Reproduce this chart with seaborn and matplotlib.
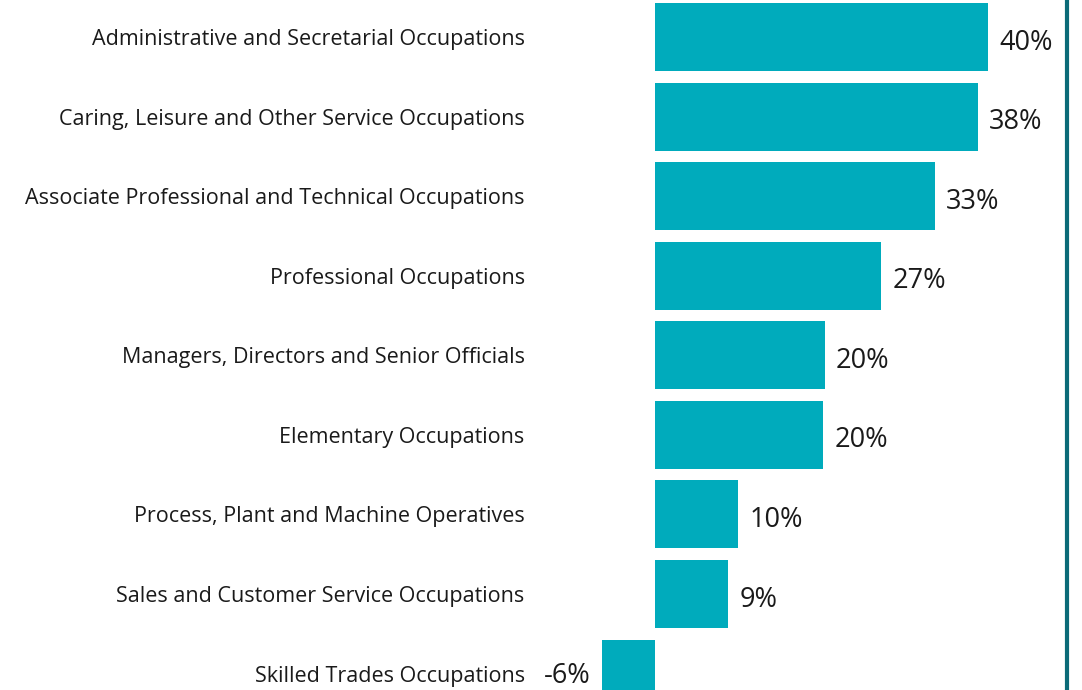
import matplotlib
matplotlib.use("Agg")
import matplotlib.pyplot as plt
import seaborn as sns
import pandas as pd

# Data
occupations = [
    "Administrative and Secretarial Occupations",
    "Caring, Leisure and Other Service Occupations",
    "Associate Professional and Technical Occupations",
    "Professional Occupations",
    "Managers, Directors and Senior Officials",
    "Elementary Occupations",
    "Process, Plant and Machine Operatives",
    "Sales and Customer Service Occupations",
    "Skilled Trades Occupations",
]
change_pct = [39.6, 38.4, 33.3, 26.9, 20.2, 20.0, 9.9, 8.7, -6.3]

BAR_COLOR = "#00ABBC"
EDGE_COLOR = "#0B6B78"
TEXT_COLOR = "#1a1a1a"

sns.set_theme(style="white")
plt.rcParams["font.family"] = ["Open Sans", "DejaVu Sans"]

df = pd.DataFrame({"occupation": occupations, "change": change_pct})

fig = plt.figure(figsize=(10.82, 6.9), dpi=100)
ax = fig.add_axes([540 / 1082, 0, (1067 - 540) / 1082, 1])

sns.barplot(data=df, x="change", y="occupation", orient="h",
            color=BAR_COLOR, saturation=1, width=0.855, linewidth=0, ax=ax)

ax.set_xlim(-13.67, 48.99)
ax.set_ylim(8.207, -0.465)
ax.set_xlabel("")
ax.set_ylabel("")
ax.set_xticks([])
ax.tick_params(axis="y", length=0, pad=11, labelsize=15.5, labelcolor=TEXT_COLOR)

for side in ["top", "left", "bottom"]:
    ax.spines[side].set_visible(False)
ax.spines["right"].set_color(EDGE_COLOR)
ax.spines["right"].set_linewidth(3)

# value labels
for i, v in enumerate(change_pct):
    label = f"{v:.0f}%"
    if v >= 0:
        ax.annotate(label, (v, i), xytext=(8, -4), textcoords="offset points",
                    ha="left", va="center", fontsize=19.5, color=TEXT_COLOR)
    else:
        ax.annotate(label, (v, i), xytext=(-8, -1.5), textcoords="offset points",
                    ha="right", va="center", fontsize=19.5, color=TEXT_COLOR,
                    annotation_clip=False)

fig.savefig("out.png", dpi=100)
